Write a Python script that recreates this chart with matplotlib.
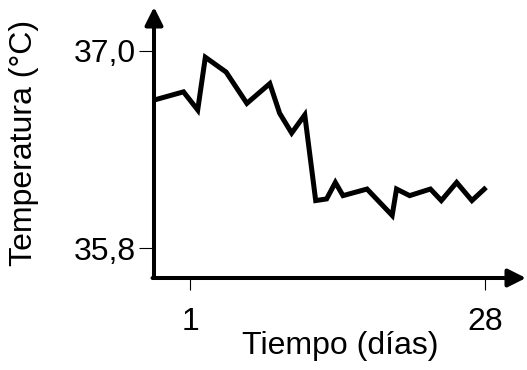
import numpy as np
import matplotlib
matplotlib.use("Agg")
import matplotlib.pyplot as plt

# temperature curve (x in days)
dias = [-2.3, 0.4, 1.7, 2.4, 4.3, 6.2, 8.3, 9.2, 10.3, 11.5, 12.5, 13.5, 14.3,
        15.0, 17.2, 19.5, 19.9, 21.1, 23.0, 24.0, 25.4, 26.8, 28.1]
temperatura = [36.70, 36.75, 36.64, 36.96, 36.87, 36.68, 36.80, 36.62, 36.50,
               36.61, 36.09, 36.10, 36.20, 36.12, 36.16, 36.00, 36.16, 36.12,
               36.16, 36.09, 36.20, 36.09, 36.17]
xticks = [1, 28]
xticklabels = ["1", "28"]
yticks = [37.0, 35.8]
yticklabels = ["37,0", "35,8"]

plt.rcParams["font.family"] = ["Liberation Sans", "DejaVu Sans"]
FS = 23

fig = plt.figure(figsize=(5.27, 3.70), dpi=100)
W, H = 527, 370
ax = fig.add_axes([154 / W, 1 - 278 / H, (526 - 154) / W, (278 - 7) / H])

ax.plot(dias, temperatura, color="black", lw=3.6, solid_joinstyle="miter",
        solid_capstyle="butt")

ax.set_xlim(-2.3, 31.75)
ax.set_ylim(35.62, 37.265)

for s in ax.spines.values():
    s.set_visible(False)

# axis arrows
arrow = dict(arrowstyle="-|>", color="black", lw=2.9, mutation_scale=27,
             shrinkA=0, shrinkB=0)
ax.annotate("", xy=(0, 1), xytext=(0, 0), xycoords="axes fraction",
            textcoords="axes fraction", arrowprops=arrow, annotation_clip=False)
ax.annotate("", xy=(1, 0), xytext=(-0.004, 0), xycoords="axes fraction",
            textcoords="axes fraction", arrowprops=arrow, annotation_clip=False)

ax.set_xticks(xticks)
ax.set_xticklabels(xticklabels)
ax.set_yticks(yticks)
ax.set_yticklabels(yticklabels)
ax.tick_params(axis="y", length=10.8, width=0.8, pad=2, labelsize=FS)
ax.tick_params(axis="x", length=8.6, width=0.8, pad=12, labelsize=FS)

ax.set_xlabel("Tiempo (días)", fontsize=FS, labelpad=-4)
ax.set_ylabel("Temperatura (°C)", fontsize=FS, labelpad=25)

fig.savefig("out.png", dpi=100)
